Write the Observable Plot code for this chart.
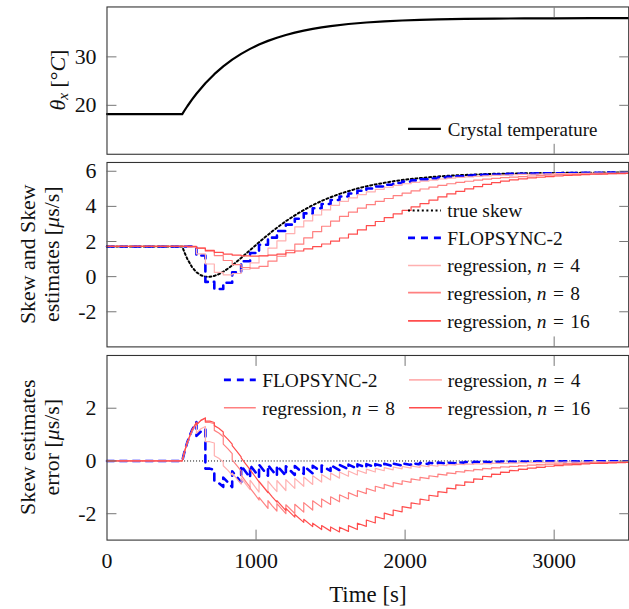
<!DOCTYPE html>
<html>
<head>
<meta charset="utf-8">
<script src="https://cdn.jsdelivr.net/npm/d3@7"></script>
<script src="https://cdn.jsdelivr.net/npm/@observablehq/plot@0.6"></script>
<style>
html, body { margin: 0; padding: 0; overflow: hidden; background: #fff; }
#chart { position: relative; width: 629px; height: 609px; overflow: hidden; background: #fff; }
#chart svg { position: absolute; left: 0; }
</style>
</head>
<body>
<div id="chart"></div>
<script>
// ---------------- data ----------------
// Crystal temperature (top panel)
const tempTime = [0, 505, 520, 540, 570, 600, 660, 720, 780, 840, 900, 960, 1020, 1080, 1140, 1200, 1260, 1320, 1380, 1440, 1500, 1620, 1740, 1860, 1980, 2100, 2220, 2400, 2600, 2800, 3000, 3250, 3500];
const crystalTemp = [18.2, 18.2, 18.93, 19.86, 21.17, 22.39, 24.56, 26.43, 28.04, 29.43, 30.62, 31.65, 32.54, 33.30, 33.95, 34.52, 35.00, 35.42, 35.78, 36.09, 36.35, 36.78, 37.10, 37.33, 37.51, 37.63, 37.73, 37.83, 37.90, 37.94, 37.96, 37.98, 37.99];

// True skew (dotted line), us/s
const skewTime = [0, 480, 505, 510, 520, 540, 570, 600, 630, 660, 690, 720, 750, 780, 810, 840, 870, 900, 930, 960, 990, 1020, 1050, 1080, 1110, 1140, 1170, 1200, 1260, 1320, 1380, 1440, 1500, 1560, 1620, 1680, 1740, 1800, 1860, 1920, 1980, 2040, 2100, 2160, 2220, 2280, 2340, 2400, 2460, 2520, 2580, 2640, 2700, 2760, 2820, 2880, 2940, 3000, 3060, 3120, 3180, 3240, 3300, 3360, 3420, 3480, 3500];
const trueSkew = [1.72, 1.72, 1.72, 1.60, 1.37, 0.99, 0.55, 0.25, 0.08, -0.01, -0.01, 0.04, 0.14, 0.28, 0.45, 0.64, 0.85, 1.06, 1.29, 1.51, 1.73, 1.96, 2.17, 2.38, 2.59, 2.78, 2.97, 3.16, 3.49, 3.79, 4.07, 4.31, 4.52, 4.71, 4.87, 5.02, 5.14, 5.25, 5.34, 5.43, 5.50, 5.56, 5.61, 5.66, 5.70, 5.74, 5.77, 5.79, 5.81, 5.83, 5.85, 5.86, 5.87, 5.88, 5.89, 5.89, 5.90, 5.90, 5.91, 5.91, 5.92, 5.92, 5.92, 5.93, 5.93, 5.93, 5.93];

// Synchronization instants (estimates are held constant between them)
const syncTime = [0, 480, 540, 600, 660, 720, 780, 840, 900, 960, 1020, 1080, 1140, 1200, 1260, 1320, 1380, 1440, 1500, 1560, 1620, 1680, 1740, 1800, 1860, 1920, 1980, 2040, 2100, 2160, 2220, 2280, 2340, 2400, 2460, 2520, 2580, 2640, 2700, 2760, 2820, 2880, 2940, 3000, 3060, 3120, 3180, 3240, 3300, 3360, 3420, 3480];
const flopsyncEst = [1.72, 1.72, 1.72, 1.20, -0.30, -0.70, -0.35, 0.25, 0.88, 1.35, 1.82, 2.22, 2.60, 2.96, 3.30, 3.60, 3.89, 4.14, 4.36, 4.56, 4.73, 4.89, 5.02, 5.13, 5.23, 5.33, 5.41, 5.48, 5.54, 5.59, 5.64, 5.68, 5.72, 5.75, 5.78, 5.80, 5.82, 5.84, 5.85, 5.86, 5.87, 5.88, 5.89, 5.89, 5.90, 5.90, 5.91, 5.91, 5.91, 5.92, 5.92, 5.92];
const regN4Est = [1.72, 1.72, 1.68, 1.30, 0.72, 0.24, 0.10, 0.18, 0.42, 0.78, 1.20, 1.62, 2.04, 2.45, 2.83, 3.18, 3.51, 3.80, 4.06, 4.29, 4.49, 4.67, 4.83, 4.97, 5.09, 5.20, 5.29, 5.37, 5.44, 5.50, 5.56, 5.61, 5.65, 5.68, 5.71, 5.74, 5.77, 5.78, 5.80, 5.82, 5.83, 5.84, 5.85, 5.86, 5.87, 5.87, 5.88, 5.89, 5.89, 5.90, 5.90, 5.91];
const regN8Est = [1.72, 1.72, 1.70, 1.62, 1.45, 1.20, 0.92, 0.68, 0.52, 0.48, 0.58, 0.88, 1.16, 1.50, 1.85, 2.21, 2.56, 2.87, 3.16, 3.43, 3.67, 3.90, 4.10, 4.29, 4.45, 4.61, 4.75, 4.88, 4.99, 5.10, 5.20, 5.29, 5.37, 5.43, 5.49, 5.55, 5.60, 5.64, 5.67, 5.70, 5.73, 5.75, 5.78, 5.79, 5.81, 5.82, 5.84, 5.85, 5.86, 5.87, 5.88, 5.88];
const regN16Est = [1.72, 1.72, 1.72, 1.62, 1.50, 1.38, 1.28, 1.22, 1.18, 1.17, 1.18, 1.22, 1.28, 1.36, 1.46, 1.58, 1.71, 1.86, 2.02, 2.20, 2.42, 2.66, 2.90, 3.14, 3.36, 3.57, 3.77, 3.97, 4.16, 4.36, 4.54, 4.71, 4.86, 5.00, 5.13, 5.25, 5.35, 5.44, 5.51, 5.57, 5.62, 5.66, 5.70, 5.73, 5.76, 5.78, 5.81, 5.83, 5.84, 5.86, 5.87, 5.88];

// Axis ticks
const xTicks = [0, 1000, 2000, 3000];
const tempTicks = [20, 30];
const skewTicks = [-2, 0, 2, 4, 6];
const errTicks = [-2, 0, 2];
const xDomain = [0, 3500];

// ---------------- derived rows ----------------
const tempRows = tempTime.map((t, i) => ({t, v: crystalTemp[i]}));
const skewRows = skewTime.map((t, i) => ({t, v: trueSkew[i]}));
function stepRows(est) {
  const r = syncTime.map((t, i) => ({t, v: est[i]}));
  r.push({t: xDomain[1], v: est[est.length - 1]});
  return r;
}
function errRows(est) {
  const rows = [];
  for (let k = 0; k < syncTime.length; k++) {
    const t0 = syncTime[k];
    const t1 = k + 1 < syncTime.length ? syncTime[k + 1] : xDomain[1];
    for (const d of skewRows) if (d.t >= t0 && d.t <= t1) rows.push({t: d.t, v: est[k] - d.v});
  }
  return rows;
}

// ---------------- styles ----------------
const FONT = "'Liberation Serif','Times New Roman',Times,serif";
const C_TRUE = "#000000", C_FS = "#0000ff", C_N4 = "#ffb0b0", C_N8 = "#ff8080", C_N16 = "#ff4d4d";
const W = 632, ML = 107, MR = 0.8;
const tickStroke = "#666";
const fmt = d => String(d);

function frameMarks(yTicks, xTickVals) {
  return [
    Plot.frame({stroke: "#333", strokeWidth: 1.1}),
    Plot.axisY(yTicks, {anchor: "left", tickSize: 0, tickPadding: 10.5, fontSize: 22, tickFormat: fmt, label: null}),
    Plot.axisY(yTicks, {anchor: "left", tickSize: 10, dx: 10, tickFormat: () => "", stroke: tickStroke, strokeWidth: 0.9, label: null}),
    Plot.axisY(yTicks, {anchor: "right", tickSize: 10, dx: -10, tickFormat: () => "", stroke: tickStroke, strokeWidth: 0.9, label: null}),
    Plot.axisX(xTickVals, {anchor: "bottom", tickSize: 10, dy: -10, tickFormat: () => "", stroke: tickStroke, strokeWidth: 0.9, label: null}),
    Plot.axisX(xTickVals, {anchor: "top", tickSize: 10, dy: 10, tickFormat: () => "", stroke: tickStroke, strokeWidth: 0.9, label: null})
  ];
}
const baseStyle = {fontFamily: FONT, fontSize: "22px", color: "#111", background: "transparent", overflow: "visible"};

// ---------------- panel 1 ----------------
const p1 = Plot.plot({
  width: W, height: 158, marginLeft: ML, marginRight: MR, marginTop: 6.5, marginBottom: 3.5,
  style: baseStyle,
  x: {domain: xDomain},
  y: {domain: [9.9, 40.3]},
  marks: [
    Plot.line(tempRows, {x: "t", y: "v", stroke: C_TRUE, strokeWidth: 2.2}),
    ...frameMarks(tempTicks, [3000])
  ]
});

// ---------------- panel 2 ----------------
const p2 = Plot.plot({
  width: W, height: 193, marginLeft: ML, marginRight: MR, marginTop: 4, marginBottom: 3.7,
  style: baseStyle,
  x: {domain: xDomain},
  y: {domain: [-4, 6.5]},
  marks: [
    Plot.line(skewRows, {x: "t", y: "v", stroke: C_TRUE, strokeWidth: 2, strokeDasharray: "2,2.6"}),
    Plot.line(stepRows(flopsyncEst), {x: "t", y: "v", curve: "step-after", stroke: C_FS, strokeWidth: 2.6, strokeDasharray: "7,6"}),
    Plot.line(stepRows(regN4Est), {x: "t", y: "v", curve: "step-after", stroke: C_N4, strokeWidth: 1.2}),
    Plot.line(stepRows(regN8Est), {x: "t", y: "v", curve: "step-after", stroke: C_N8, strokeWidth: 1.2}),
    Plot.line(stepRows(regN16Est), {x: "t", y: "v", curve: "step-after", stroke: C_N16, strokeWidth: 1.2}),
    ...frameMarks(skewTicks, [3000])
  ]
});

// ---------------- panel 3 ----------------
const p3 = Plot.plot({
  width: W, height: 258, marginLeft: ML, marginRight: MR, marginTop: 4, marginBottom: 68.5,
  style: baseStyle,
  x: {domain: xDomain},
  y: {domain: [-3, 4]},
  marks: [
    Plot.ruleY([0], {stroke: "#000", strokeWidth: 1, strokeDasharray: "1,2"}),
    Plot.line(errRows(flopsyncEst), {x: "t", y: "v", stroke: C_FS, strokeWidth: 2.6, strokeDasharray: "7,6"}),
    Plot.line(errRows(regN4Est), {x: "t", y: "v", stroke: C_N4, strokeWidth: 1.2}),
    Plot.line(errRows(regN8Est), {x: "t", y: "v", stroke: C_N8, strokeWidth: 1.2}),
    Plot.line(errRows(regN16Est), {x: "t", y: "v", stroke: C_N16, strokeWidth: 1.2}),
    ...frameMarks(errTicks, [1000, 2000, 3000]),
    Plot.axisX(xTicks, {anchor: "bottom", tickSize: 0, tickPadding: 12, fontSize: 22, tickFormat: fmt, label: null}),
    Plot.text(["Time [s]"], {frameAnchor: "bottom", lineAnchor: "middle", dy: 54.5, fontSize: 23, fill: "#111"})
  ]
});

const chart = document.getElementById("chart");
p1.style.top = "0px"; p2.style.top = "158px"; p3.style.top = "351px";
chart.append(p1, p2, p3);

// ---------------- rich text: axis titles & legends ----------------
function richText(svg, x, y, parts, size, rotate) {
  const t = d3.select(svg).append("text")
    .attr("font-family", FONT).attr("font-size", size).attr("fill", "#111")
    .attr("dominant-baseline", "central").style("white-space", "pre");
  if (rotate) t.attr("transform", `translate(${x},${y}) rotate(-90)`).attr("text-anchor", "middle");
  else t.attr("x", x).attr("y", y).attr("text-anchor", "start");
  for (const p of parts) {
    const s = t.append("tspan").text(p.s);
    if (p.i) s.attr("font-style", "italic");
    if (p.sub) s.attr("font-size", size * 0.7).attr("dy", size * 0.22);
    if (p.unsub) s.attr("dy", -size * 0.22);
  }
  return t;
}
function sample(svg, x1, x2, y, stroke, width, dash) {
  d3.select(svg).append("line").attr("x1", x1).attr("x2", x2).attr("y1", y).attr("y2", y)
    .attr("stroke", stroke).attr("stroke-width", width).attr("stroke-dasharray", dash || null);
}

// Y titles
richText(p1, 57, 80.5, [{s: "θ", i: true}, {s: "x", i: true, sub: true}, {s: " [°", unsub: true}, {s: "C", i: true}, {s: "]"}], 22, true);
richText(p2, 27, 96.7, [{s: "Skew and Skew"}], 22, true);
richText(p2, 51, 96.7, [{s: "estimates ["}, {s: "μ", i: true}, {s: "s/s]"}], 22, true);
richText(p3, 27, 96.7, [{s: "Skew estimates"}], 22, true);
richText(p3, 51, 96.7, [{s: "error ["}, {s: "μ", i: true}, {s: "s/s]"}], 22, true);

// Legend panel 1
sample(p1, 410, 443, 129.5, C_TRUE, 2.2);
richText(p1, 450, 129.5, [{s: "Crystal temperature"}], 19);

// Legend panel 2
const LS = 19.5;
const reg = n => [{s: "regression, "}, {s: "n", i: true}, {s: "\u2004=\u2004" + n}];
const l2 = [
  {y: 52.7, c: C_TRUE, w: 2, d: "2,2.6", t: [{s: "true skew"}]},
  {y: 80.3, c: C_FS, w: 2.6, d: "7,6", t: [{s: "FLOPSYNC-2"}]},
  {y: 108, c: C_N4, w: 1.6, t: reg(4)},
  {y: 135.3, c: C_N8, w: 1.6, t: reg(8)},
  {y: 163.7, c: C_N16, w: 1.6, t: reg(16)}
];
for (const r of l2) { sample(p2, 410, 443, r.y, r.c, r.w, r.d); richText(p2, 449.5, r.y, r.t, LS); }

// Legend panel 3
sample(p3, 225, 257, 29, C_FS, 2.6, "7,6"); richText(p3, 263.5, 29, [{s: "FLOPSYNC-2"}], LS);
sample(p3, 411, 444, 29, C_N4, 1.6); richText(p3, 450, 29, reg(4), LS);
sample(p3, 225, 257, 57, C_N8, 1.6); richText(p3, 263.5, 57, reg(8), LS);
sample(p3, 411, 444, 57, C_N16, 1.6); richText(p3, 450, 57, reg(16), LS);
</script>
</body>
</html>
